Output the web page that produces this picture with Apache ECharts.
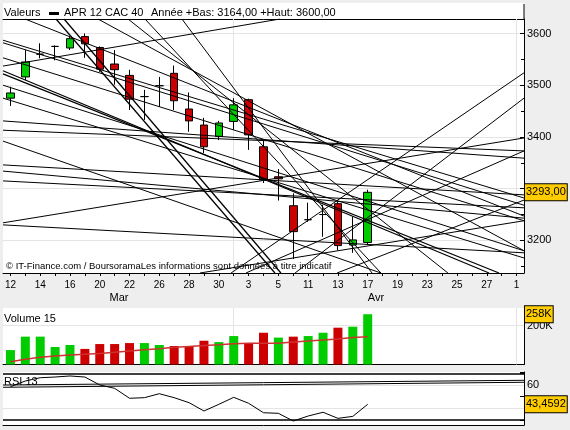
<!DOCTYPE html>
<html>
<head>
<meta charset="utf-8">
<title>APR 12 CAC 40</title>
<script src="https://cdn.jsdelivr.net/npm/echarts@6/dist/echarts.min.js"></script>
<style>
html, body { margin: 0; padding: 0; background: #eeeeee; }
#chart { width: 570px; height: 430px; }
</style>
</head>
<body>
<div id="chart"></div>
<script>
// trading days shown on the axis (Mar 12 -> May 1 2012)
var days = [
  '2012-03-12', '2012-03-13', '2012-03-14', '2012-03-15', '2012-03-16',
  '2012-03-19', '2012-03-20', '2012-03-21', '2012-03-22', '2012-03-23',
  '2012-03-26', '2012-03-27', '2012-03-28', '2012-03-29', '2012-03-30',
  '2012-04-02', '2012-04-03', '2012-04-04', '2012-04-05',
  '2012-04-10', '2012-04-11', '2012-04-12', '2012-04-13',
  '2012-04-16', '2012-04-17', '2012-04-18', '2012-04-19', '2012-04-20',
  '2012-04-23', '2012-04-24', '2012-04-25', '2012-04-26', '2012-04-27',
  '2012-04-30', '2012-05-01'
];
var monthStarts = ['2012-04-02', '2012-05-01'];

var opens  = [3475, 3516, 3560, 3575, 3572, 3594, 3573, 3541, 3519, 3478, 3499, 3523, 3454, 3423, 3401, 3430, 3472, 3381, 3323, 3267, 3240, 3250, 3271, 3191, 3196];
var closes = [3485, 3545, 3560, 3575, 3590, 3580, 3531, 3530, 3473, 3478, 3499, 3470, 3431, 3381, 3427, 3462, 3404, 3317, 3319, 3217, 3240, 3250, 3190, 3201, 3293];
var lows   = [3460, 3510, 3552, 3548, 3568, 3553, 3526, 3501, 3452, 3433, 3458, 3452, 3410, 3369, 3394, 3414, 3375, 3311, 3277, 3164, 3236, 3207, 3181, 3176, 3191];
var highs  = [3497, 3568, 3581, 3577, 3594, 3600, 3575, 3568, 3530, 3491, 3516, 3538, 3486, 3437, 3431, 3475, 3474, 3394, 3338, 3291, 3273, 3269, 3275, 3246, 3298];

var volumes = [74, 143, 143, 90, 100, 80, 105, 105, 110, 110, 100, 95, 95, 122, 115, 146, 109, 163, 138, 143, 146, 163, 189, 194, 258]; // K
var volumeAvg = [14, 27, 37, 44, 49, 52, 57, 63, 69, 76, 81, 88, 93, 98, 102, 107, 109, 109, 109, 115, 121, 126, 131, 138, 143]; // K
var rsi = [58.5, 63.4, 66.2, 66.8, 67.7, 66.8, 60.0, 57.1, 48.6, 49.1, 52.5, 49.1, 44.8, 37.7, 43.4, 49.4, 44.3, 36.2, 35.7, 29.1, 33.4, 36.6, 31.4, 33.1, 43.4592];

// drawn trend lines: [start day index, start price, end day index, end price]
var priceLines = [
  [-0.5, 3587, 34.5, 3282],
  [-0.5, 3582, 34.5, 3268],
  [-0.5, 3553, 34.5, 3238],
  [-0.5, 3528, 32.15, 3137],
  [-0.5, 3522, 32.82, 3137],
  [-0.5, 3500, 34.5, 3180],
  [-0.5, 3475, 34.5, 3166],
  [-0.5, 3431, 34.5, 3359],
  [-0.5, 3413, 34.5, 3373],
  [-0.5, 3392, 24.89, 3137],
  [-0.5, 3346, 34.5, 3288],
  [-0.5, 3334, 34.5, 3243],
  [-0.5, 3315, 34.5, 3263],
  [-0.5, 3230, 34.5, 3176],
  [-0.5, 3234, 34.5, 3398],
  [-0.5, 3537, 18.11, 3628],
  [3.06, 3628, 17.77, 3137],
  [3.6, 3628, 18.17, 3137],
  [9.04, 3628, 24.89, 3137],
  [11.52, 3628, 24.29, 3137],
  [0.98, 3628, 34.5, 3247],
  [5.88, 3628, 34.5, 3180],
  [7.9, 3628, 29.39, 3137],
  [14.82, 3137, 34.5, 3524],
  [19.12, 3137, 34.5, 3475],
  [15.82, 3137, 34.5, 3373],
  [21.94, 3137, 34.5, 3278],
  [12.73, 3137, 34.5, 3238]
];
var heavyLines = [3, 4, 16, 17];
var rsiLines = [
  [-0.5, 59.96, 34.5, 64.0],
  [-0.5, 58.0, 34.5, 62.3]
];

var FONT = "'Liberation Sans', Arial, sans-serif";
var GREEN = '#00cc00', RED = '#cc0000';
var gridColor = '#e4e4e4';

function comma(v, d) { return v.toFixed(d).replace('.', ','); }

var candleData = opens.map(function (o, i) { return [o, closes[i], lows[i], highs[i]]; });
var volumeData = volumes.map(function (v, i) {
  var up = i === 0 || closes[i] >= closes[i - 1];
  return { value: v * 1000, itemStyle: { color: up ? GREEN : RED } };
});
var monthMarks = monthStarts.map(function (d) { return { xAxis: d }; });

// last-value tag shown in a yellow box right of the axis
function lastTag(value, text) {
  return {
    yAxis: value,
    lineStyle: { width: 0, color: 'rgba(0,0,0,0)', opacity: 1 },
    label: {
      show: true, position: 'end', distance: 1, formatter: text, opacity: 1,
      color: '#000', fontSize: 11, fontFamily: FONT, lineHeight: 12,
      backgroundColor: '#ffcc00', borderColor: '#000', borderWidth: 1, padding: [2, 1, 2, 1]
    }
  };
}

var series = [];
series.push({
  type: 'candlestick', xAxisIndex: 0, yAxisIndex: 0, data: candleData, barWidth: 8,
  itemStyle: { color: GREEN, color0: RED, borderColor: '#000', borderColor0: '#000', borderColorDoji: '#000', borderWidth: 1 },
  markLine: { z: 1, silent: true, symbol: ['none', 'none'], label: { show: false },
    lineStyle: { color: gridColor, type: 'solid', width: 1 }, data: monthMarks }
});
priceLines.forEach(function (l, k) {
  var s = {
    type: 'line', xAxisIndex: 1, yAxisIndex: 0, data: [[l[0], l[1]], [l[2], l[3]]],
    symbol: 'none', silent: true, clip: true, z: 3,
    lineStyle: { color: '#000', width: heavyLines.indexOf(k) >= 0 ? 1.25 : 1 }
  };
  if (k === 0) {
    var last = closes[closes.length - 1];
    s.markLine = { z: 10, silent: true, symbol: ['none', 'none'], data: [lastTag(last, comma(last, 2))] };
  }
  series.push(s);
});
series.push({
  type: 'bar', xAxisIndex: 2, yAxisIndex: 1, data: volumeData, barWidth: 9,
  markLine: { z: 1, silent: true, symbol: ['none', 'none'], label: { show: false },
    lineStyle: { color: gridColor, type: 'solid', width: 1 },
    data: monthMarks.concat([{ yAxis: 200000 }]) }
});
series.push({
  type: 'line', xAxisIndex: 2, yAxisIndex: 1, data: volumeAvg.map(function (v) { return v * 1000; }),
  symbol: 'none', lineStyle: { color: '#d03030', width: 1.5 },
  markLine: { z: 10, silent: true, symbol: ['none', 'none'],
    data: [lastTag(volumes[volumes.length - 1] * 1000, volumes[volumes.length - 1] + 'K')] }
});
rsiLines.forEach(function (l, k) {
  var s = {
    type: 'line', xAxisIndex: 4, yAxisIndex: 2, data: [[l[0], l[1]], [l[2], l[3]]],
    symbol: 'none', silent: true, clip: true, lineStyle: { color: '#000', width: 1 }
  };
  if (k === 0) {
    s.markLine = { z: 1, silent: true, symbol: ['none', 'none'], label: { show: false },
      lineStyle: { color: gridColor, type: 'solid', width: 1 },
      data: monthMarks.concat([{ yAxis: 40 }, { yAxis: 60 }]) };
  }
  series.push(s);
});
series.push({
  type: 'line', xAxisIndex: 3, yAxisIndex: 2, data: rsi, symbol: 'none',
  lineStyle: { color: '#000', width: 1 },
  markLine: { z: 10, silent: true, symbol: ['none', 'none'], label: { show: false },
    lineStyle: { color: '#000', type: 'solid', width: 1.5 },
    data: [{ yAxis: 70 }, { yAxis: 30 }, lastTag(rsi[rsi.length - 1], comma(rsi[rsi.length - 1], 4))] }
});

var blackLine = { show: true, onZero: false, lineStyle: { color: '#000', width: 1 } };
var hiddenCat = {
  type: 'category', data: days, boundaryGap: true, axisLine: blackLine,
  axisTick: { show: false }, axisLabel: { show: false }, splitLine: { show: false }
};

var option = {
  animation: false,
  backgroundColor: '#eeeeee',
  textStyle: { fontFamily: FONT },
  grid: [
    { left: 3, right: 46, top: 19, height: 254, show: true, backgroundColor: '#fff', borderWidth: 0 },
    { left: 3, right: 46, top: 308, height: 56.5, show: true, backgroundColor: '#fff', borderWidth: 0 },
    { left: 3, right: 46, top: 372, height: 53, show: true, backgroundColor: '#fff', borderWidth: 0 }
  ],
  xAxis: [
    {
      type: 'category', gridIndex: 0, data: days, boundaryGap: true, axisLine: blackLine,
      axisTick: { show: true, interval: 0, alignWithLabel: true, length: 3, lineStyle: { color: '#000' } },
      axisLabel: { interval: 1, margin: 7, color: '#000', fontSize: 10, fontFamily: FONT,
        formatter: function (v) { return String(+v.slice(8)); } },
      splitLine: { show: false }
    },
    { type: 'value', gridIndex: 0, position: 'top', min: -0.5, max: 34.5, axisLine: blackLine,
      axisTick: { show: false }, axisLabel: { show: false }, splitLine: { show: false } },
    Object.assign({ gridIndex: 1 }, hiddenCat),
    Object.assign({ gridIndex: 2 }, hiddenCat),
    { type: 'value', gridIndex: 2, min: -0.5, max: 34.5, show: false }
  ],
  yAxis: [
    {
      type: 'value', gridIndex: 0, position: 'right', min: 3137, max: 3628, axisLine: blackLine,
      axisTick: { inside: true, length: 4, lineStyle: { color: '#000' } },
      minorTick: { show: true, splitNumber: 2, length: 3, lineStyle: { color: '#000' } },
      axisLabel: { margin: 3, color: '#000', fontSize: 11, fontFamily: FONT,
        formatter: function (v) { return v % 100 === 0 ? String(v) : ''; } },
      splitLine: { show: true, lineStyle: { color: gridColor } }
    },
    {
      type: 'value', gridIndex: 1, position: 'right', min: 0, max: 290000, interval: 100000, axisLine: blackLine,
      axisTick: { inside: true, length: 4, lineStyle: { color: '#000' } },
      axisLabel: { margin: 3, color: '#000', fontSize: 11, fontFamily: FONT,
        formatter: function (v) { return v === 200000 ? '200K' : ''; } },
      splitLine: { show: false }
    },
    {
      type: 'value', gridIndex: 2, position: 'right', min: 25.7, max: 71.1, axisLine: blackLine,
      axisTick: { inside: true, length: 4, lineStyle: { color: '#000' } },
      axisLabel: { margin: 3, color: '#000', fontSize: 11, fontFamily: FONT,
        formatter: function (v) { return v === 60 || v === 40 ? String(v) : ''; } },
      splitLine: { show: false }
    }
  ],
  graphic: [
    { type: 'rect', shape: { x: 3, y: 3, width: 521, height: 16 }, style: { fill: '#fff' }, z: 0 },
    { type: 'line', shape: { x1: 524, y1: 4, x2: 524, y2: 19 }, style: { stroke: '#000', lineWidth: 1 }, z: 10 },
    { type: 'text', x: 4, y: 13, z: 10, style: { text: 'Valeurs', font: '11px ' + FONT, fill: '#000', verticalAlign: 'middle' } },
    { type: 'rect', shape: { x: 49, y: 12, width: 10, height: 3 }, style: { fill: '#000' }, z: 10 },
    { type: 'text', x: 64, y: 13, z: 10, style: { text: 'APR 12 CAC 40', font: '11px ' + FONT, fill: '#000', verticalAlign: 'middle' } },
    { type: 'text', x: 151, y: 13, z: 10, style: { text: 'Année +Bas: 3164,00 +Haut: 3600,00', font: '11px ' + FONT, fill: '#000', verticalAlign: 'middle' } },
    { type: 'text', x: 6, y: 266, z: 10, style: { text: '© IT-Finance.com / BoursoramaLes informations sont données à titre indicatif', font: '9.5px ' + FONT, fill: '#000', verticalAlign: 'middle' } },
    { type: 'text', x: 119, y: 298, z: 10, style: { text: 'Mar', font: '11px ' + FONT, fill: '#000', align: 'center', verticalAlign: 'middle' } },
    { type: 'text', x: 376, y: 298, z: 10, style: { text: 'Avr', font: '11px ' + FONT, fill: '#000', align: 'center', verticalAlign: 'middle' } },
    { type: 'text', x: 4, y: 319, z: 10, style: { text: 'Volume 15', font: '11px ' + FONT, fill: '#000', verticalAlign: 'middle' } },
    { type: 'text', x: 4, y: 382, z: 10, style: { text: 'RSI 13', font: '11px ' + FONT, fill: '#000', verticalAlign: 'middle' } }
  ],
  series: series
};

var chart = echarts.init(document.getElementById('chart'));
chart.setOption(option);
</script>
</body>
</html>
